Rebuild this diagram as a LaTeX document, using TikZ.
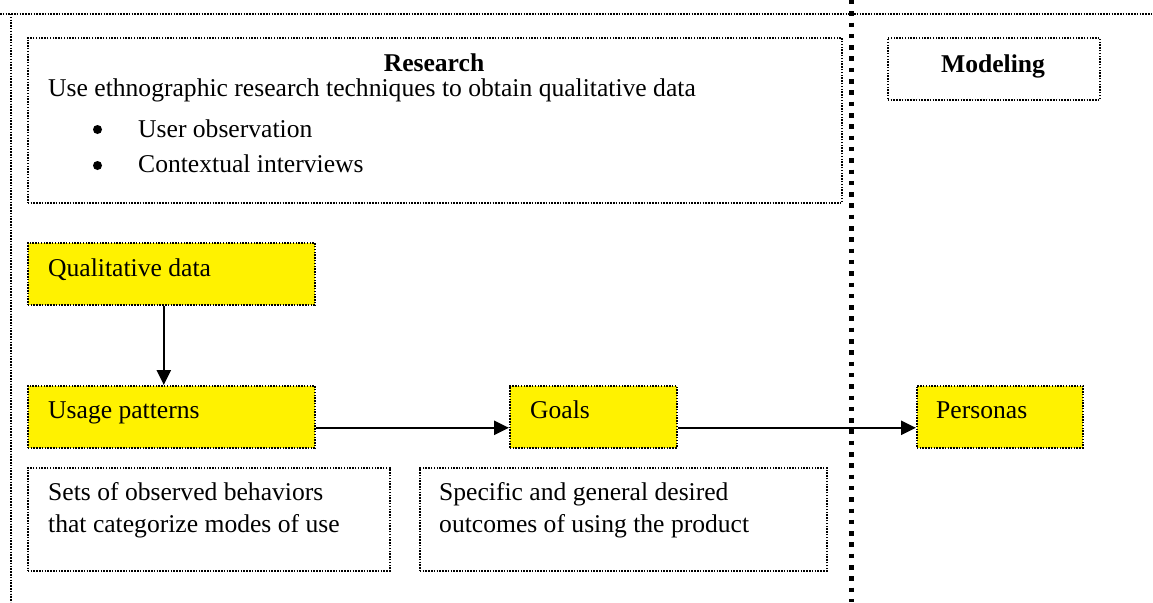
\documentclass[tikz,border=0pt]{standalone}
\usepackage{fontspec}
\setmainfont{Liberation Serif}
\usetikzlibrary{arrows.meta}

\begin{document}
\begin{tikzpicture}[x=1pt,y=-1pt,
  dotline/.style={line width=1.6pt, dash pattern=on 1.5pt off 1.3pt},
  frame/.style={draw, dotline, inner sep=0pt, anchor=north west},
  hilite/.style={frame, fill=yellow},
  txt/.style={anchor=base west, inner sep=0pt, font=\fontsize{25.6}{30}\selectfont},
  ttl/.style={anchor=base, inner sep=0pt, text depth=0pt, font=\fontsize{25.6}{30}\selectfont\bfseries},
  dot/.style={circle, fill, inner sep=0pt, minimum size=9pt},
  flow/.style={line width=2.4pt, -{Triangle[length=15pt,width=14pt]}},
  divider/.style={line width=5pt, dash pattern=on 4.5pt off 6.8pt}
]
\useasboundingbox (0,0) rectangle (1153,602);

% outer frame and phase divider
\draw[dotline] (0,14) -- (1153,14);
\draw[dotline] (11,14) -- (11,602);
\draw[divider] (851,0) -- (851,602);

% boxes
\node[frame, minimum width=814pt, minimum height=165pt] (research) at (27,37) {};
\node[frame, minimum width=212pt, minimum height=62pt] (modeling) at (887,37) {};
\node[hilite, minimum width=287pt, minimum height=62pt] (qual) at (27,242) {};
\node[hilite, minimum width=287pt, minimum height=62pt] (usage) at (27,385) {};
\node[hilite, minimum width=167pt, minimum height=62pt] (goals) at (509,385) {};
\node[hilite, minimum width=166pt, minimum height=62pt] (personas) at (916,385) {};
\node[frame, minimum width=362pt, minimum height=103pt] (sets) at (27,467) {};
\node[frame, minimum width=407pt, minimum height=103pt] (outcomes) at (419,467) {};

% research phase text
\node[ttl] (researchTitle) at (434,71) {Research};
\node[txt] (researchLead) at (48,96) {Use ethnographic research techniques to obtain qualitative data};
\node[dot] (bulletA) at (97.5,129.5) {};
\node[txt] (itemA) at (138,137) {User observation};
\node[dot] (bulletB) at (97.5,165.5) {};
\node[txt] (itemB) at (138,172) {Contextual interviews};

\node[ttl] (modelingTitle) at (993,72) {Modeling};

% box labels
\node[txt] (qualText) at (48,276) {Qualitative data};
\node[txt] (usageText) at (48,418) {Usage patterns};
\node[txt] (goalsText) at (530,418) {Goals};
\node[txt] (personasText) at (936,418) {Personas};
\node[txt] (setsA) at (48,500) {Sets of observed behaviors};
\node[txt] (setsB) at (48,532) {that categorize modes of use};
\node[txt] (outA) at (439,500) {Specific and general desired};
\node[txt] (outB) at (439,532) {outcomes of using the product};

% flow
\draw[flow] ([xshift=-7.5pt]qual.south) -- ([xshift=-7.5pt]usage.north);
\draw[flow] ([yshift=-11pt]usage.east) -- ([yshift=-11pt]goals.west);
\draw[flow] ([yshift=-11pt]goals.east) -- ([yshift=-11pt]personas.west);
\end{tikzpicture}
\end{document}
